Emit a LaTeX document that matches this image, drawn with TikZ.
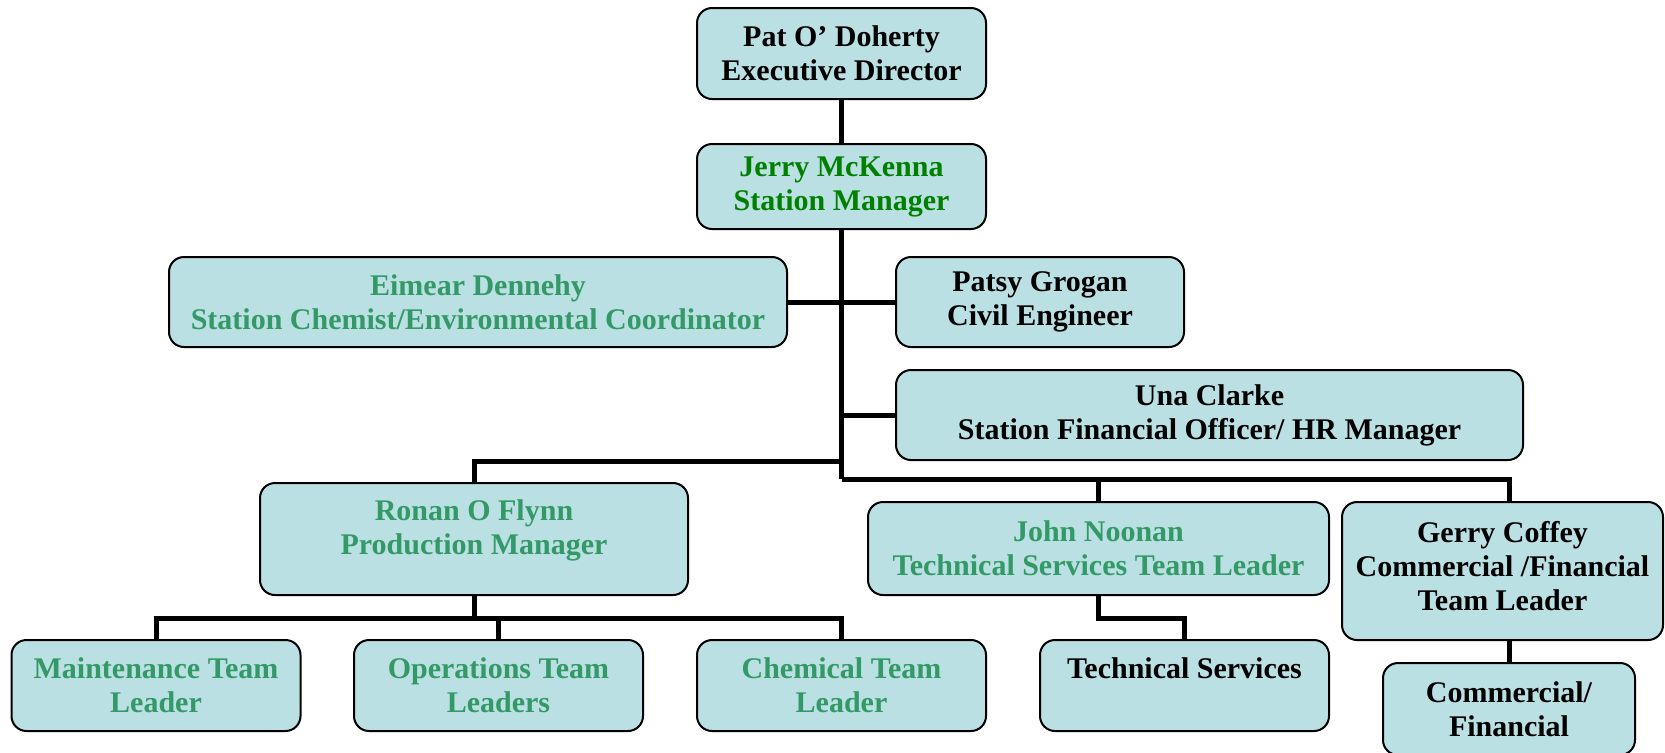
\documentclass[tikz,border=0pt]{standalone}
\usepackage{fontspec}
\setmainfont{Liberation Serif}
\definecolor{boxfill}{RGB}{187,224,227}
\definecolor{mgrgreen}{RGB}{0,128,0}
\definecolor{teamgreen}{RGB}{51,153,102}
\tikzset{
  post/.style={draw=black, line width=1pt, fill=boxfill, rounded corners=7.5pt,
    inner sep=0pt, align=center, text=black,
    font=\bfseries\fontsize{15}{17}\selectfont,
    minimum width=144.5pt, minimum height=45.5pt},
  mgr/.style={post, text=mgrgreen},
  team/.style={post, text=teamgreen}
}
\begin{document}
\begin{tikzpicture}[x=0.5pt,y=-0.5pt]
      \useasboundingbox (0,0) rectangle (1665,752);
      \draw
        (841.5,53.5) node[post] (0){Pat O’ Doherty\\Executive Director}
        (841.5,186.5) node[mgr, minimum height=42.5pt] (1){Jerry McKenna\\Station Manager}
        (478,302) node[team, minimum width=309pt, minimum height=45pt] (2){Eimear Dennehy\\Station Chemist/Environmental Coordinator}
        (1040,302) node[post, minimum width=144pt, minimum height=45pt] (3){Patsy Grogan\\Civil Engineer}
        (1209.5,415) node[post, minimum width=313.5pt, minimum height=45pt] (4){Una Clarke\\Station Financial Officer/ HR Manager}
        (474,539) node[team, minimum width=214pt, minimum height=56pt] (5){Ronan O Flynn\\Production Manager\\[-5pt]\mbox{}}
        (1098.5,548.5) node[team, minimum width=230.5pt, minimum height=46.5pt] (6){John Noonan\\Technical Services Team Leader}
        (1502.5,571) node[post, minimum width=160.5pt, minimum height=69pt] (7){Gerry Coffey\\Commercial /Financial\\Team Leader\\[-12pt]\mbox{}}
        (156,685.5) node[team] (8){Maintenance Team\\Leader}
        (498.5,685.5) node[team] (9){Operations Team\\Leaders}
        (841.5,685.5) node[team] (10){Chemical Team\\Leader}
        (1184.5,685.5) node[post] (11){Technical Services\\\mbox{}}
        (1509,709) node[post, minimum width=126pt, minimum height=46pt] (12){Commercial/\\Financial};
      \coordinate (l) at (841.5,461);
      \coordinate (r) at (841.5,479);
      \coordinate (p) at (474,618);
      \coordinate (t) at (1098.5,618);
      \begin{scope}[-, line width=2.5pt]
        \draw (0) to (1);
        \draw (1) to (r);
        \draw (2) to (3);
        \draw (4) -- (4 -| r);
        \draw (l) -| (5);
        \draw (r) -| (12 |- 7.north);
        \draw (6) -- (6 |- r);
        \draw (5) -- (p);
        \draw (p) -| (8);
        \draw (p) -| (9);
        \draw (p) -| (10);
        \draw (6) -- (t) -| (11);
        \draw (12) -- (12 |- 7.south);
      \end{scope}
    \end{tikzpicture}
\end{document}
